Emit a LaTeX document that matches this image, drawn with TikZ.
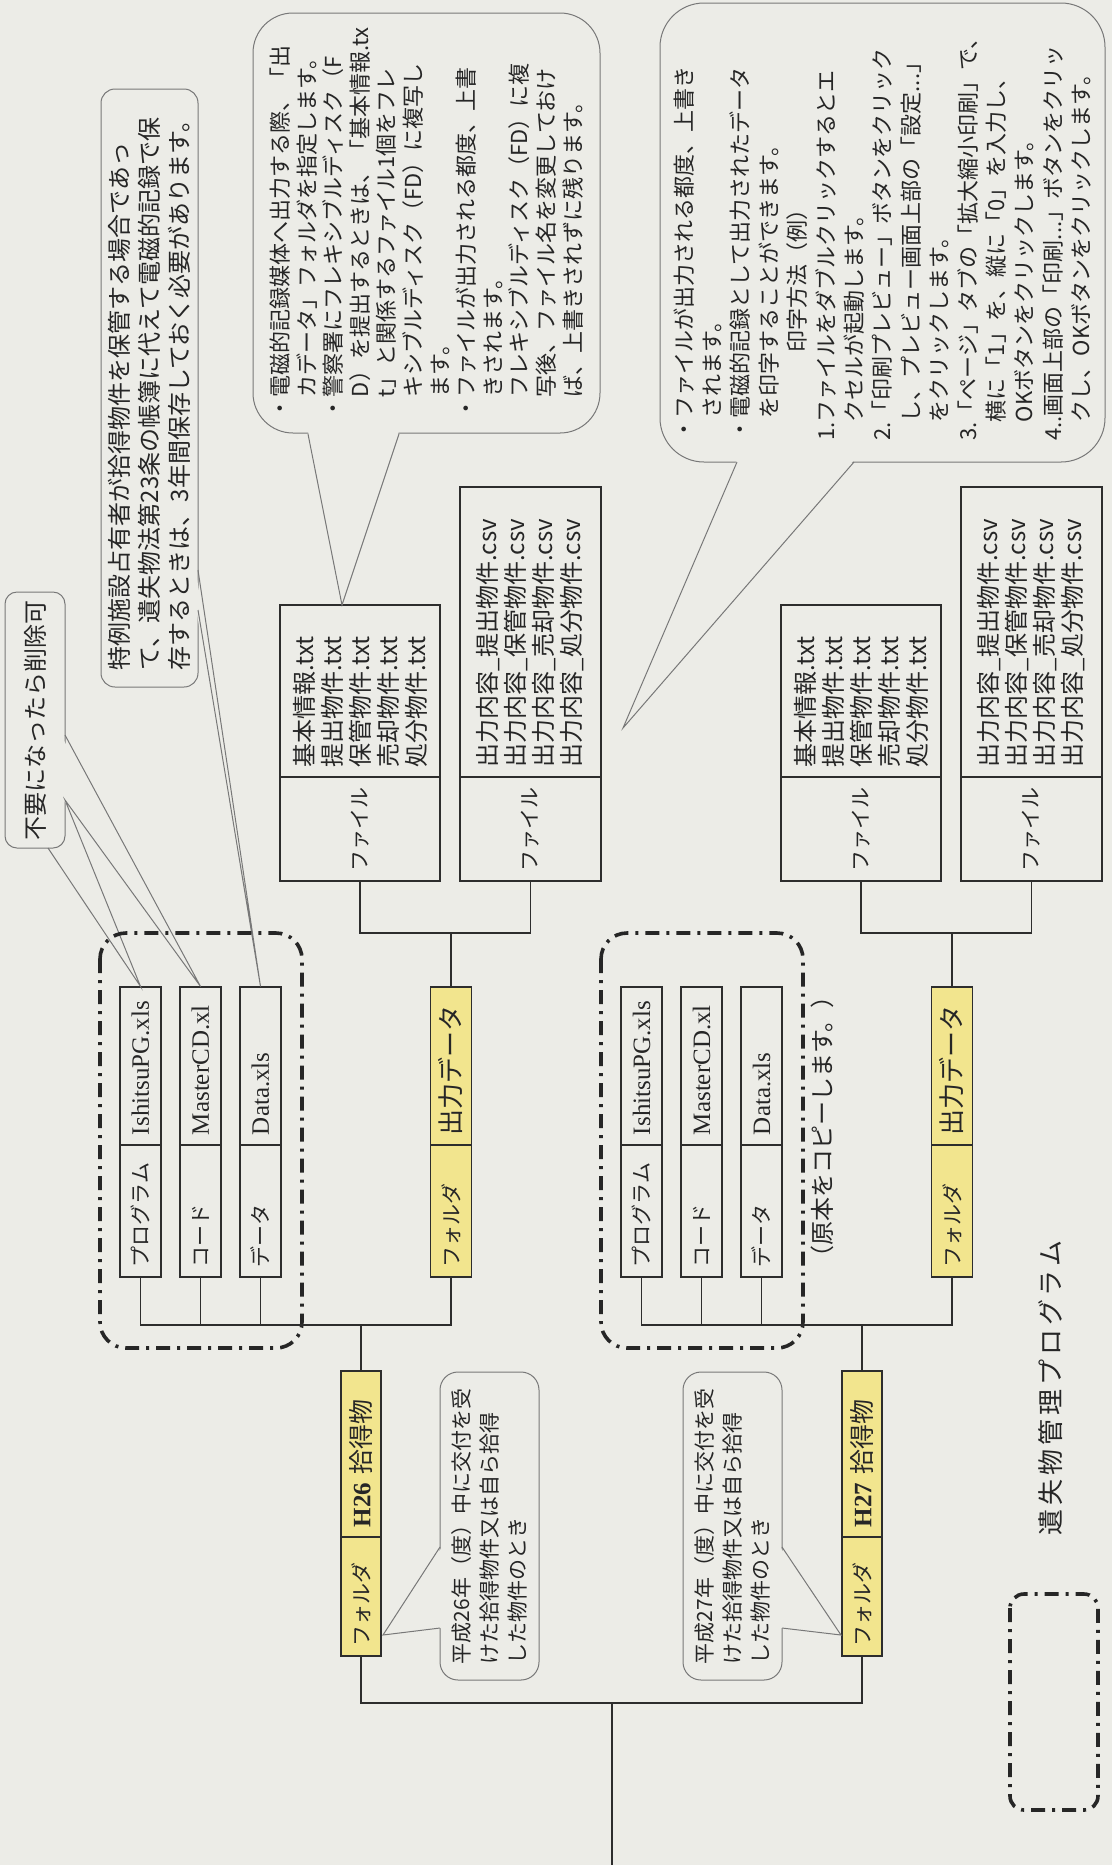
\documentclass[tikz,border=0pt]{standalone}
\usepackage{fontspec}
\setmainfont{Noto Sans CJK JP}
\newfontfamily\tms{Liberation Serif}
\newfontfamily\wideja[LetterSpace=15]{Noto Sans CJK JP}
\usepackage{tikz}
\definecolor{paper}     {RGB}{236,236,231}
\definecolor{folderyel} {RGB}{242,229,142}
\definecolor{boxline}   {RGB}{45,45,45}
\definecolor{noteline}  {RGB}{120,120,120}
\newcommand{\bulind}{\hphantom{・}}
\newcommand{\numind}{\hphantom{1.}}

\begin{document}
\begin{tikzpicture}[x=0.5pt,y=-0.5pt,
	part/.style={draw=boxline,line width=0.6pt,rotate=90,align=left,inner xsep=5pt,inner ysep=0pt,text=black!85},
	lab/.style={part,font=\fontsize{10.5}{12}\selectfont},
	smalll/.style={lab,text width=56pt,minimum height=20.5pt},
	smallv/.style={part,font=\tms\fontsize{12.5}{14}\selectfont,text width=69pt,minimum height=20.5pt},
	foldl/.style={smalll,fill=folderyel},
	foldv/.style={part,fill=folderyel,font=\fontsize{13}{14}\selectfont,text width=69pt,minimum height=20.5pt},
	yearl/.style={lab,fill=folderyel,text width=49.5pt,minimum height=20pt},
	yearv/.style={part,fill=folderyel,font=\fontsize{12.5}{14}\selectfont,text width=73pt,minimum height=20pt},
	filel/.style={lab,text width=42pt},
	filev/.style={part,font=\fontsize{12}{14}\selectfont},
	note/.style={draw=noteline,line width=0.5pt,rotate=90,align=left,inner sep=0pt,text=black!85},
	tail/.style={draw=noteline,line width=0.5pt},
	link/.style={draw=boxline,line width=0.7pt},
	dashbox/.style={draw=black!85,line width=1.8pt,dash pattern=on 7pt off 3.5pt on 1.5pt off 3.5pt,rounded corners=13pt}]
	% paper
	\fill[paper] (0,0) rectangle (1112,1865);
	\useasboundingbox (0,0) rectangle (1112,1865);

	% callouts
	\node[note,rounded corners=6pt,font=\fontsize{12}{14}\selectfont,text width=120pt,minimum width=128pt,minimum height=30pt] (n1) at (35,720) {不要になったら削除可};
	\node[note,rounded corners=7pt,font=\fontsize{12}{15}\selectfont,text width=282pt,minimum width=299pt,minimum height=48.5pt] (n2) at (149.5,388) {特例施設占有者が拾得物件を保管する場合であっ\\て、遺失物法第23条の帳簿に代えて電磁的記録で保\\存するときは、3年間保存しておく必要があります。};
	\node[note,rounded corners=20pt,font=\fontsize{11}{13.3}\selectfont,text width=196pt,minimum width=210pt,minimum height=173.5pt] (n3) at (426.5,223) {・電磁的記録媒体へ出力する際、「出\\
		\bulind カデータ」フォルダを指定します。\\
		・警察署にフレキシブルディスク（F\\
		\bulind D）を提出するときは、「基本情報.tx\\
		\bulind t」と関係するファイル1個をフレ\\
		\bulind キシブルディスク（FD）に複写し\\
		\bulind ます。\\
		・ファイルが出力される都度、上書\\
		\bulind きされます。\\
		\bulind フレキシブルディスク（FD）に複\\
		\bulind 写後、ファイル名を変更しておけ\\
		\bulind ば、上書きされずに残ります。};
	\node[note,rounded corners=22pt,font=\fontsize{11}{14.2}\selectfont,text width=208pt,minimum width=229.5pt,minimum height=222.5pt] (n4) at (882.5,232.5) {・ファイルが出力される都度、上書き\\
		\bulind されます。\\
		・電磁的記録として出力されたデータ\\
		\bulind を印字することができます。\\
		\hspace*{4em}印字方法（例）\\
		1.ファイルをダブルクリックするとエ\\
		\numind クセルが起動します。\\
		2.「印刷プレビュー」ボタンをクリック\\
		\numind し、プレビュー画面上部の「設定...」\\
		\numind をクリックします。\\
		3.「ページ」タブの「拡大縮小印刷」で、\\
		\numind 横に「1」を、縦に「0」を入力し、\\
		\numind OKボタンをクリックします。\\
		4..画面上部の「印刷...」ボタンをクリッ\\
		\numind クし、OKボタンをクリックします。};
	\node[note,rounded corners=9pt,font=\fontsize{10.5}{14}\selectfont,text width=138pt,minimum width=154pt,minimum height=49.5pt] (n5) at (489.5,1526) {平成26年（度）中に交付を受\\けた拾得物件又は自ら拾得\\した物件のとき};
	\node[note,rounded corners=9pt,font=\fontsize{10.5}{14}\selectfont,text width=138pt,minimum width=154pt,minimum height=49.5pt] (n6) at (732.5,1526) {平成27年（度）中に交付を受\\けた拾得物件又は自ら拾得\\した物件のとき};

	% H26
	\node[smallv] (p26v) at (140.5,1066) {IshitsuPG.xls};
	\node[smalll] (p26l) at (140.5,1211) {プログラム};
	\node[smallv] (c26v) at (200.5,1066) {MasterCD.xl};
	\node[smalll] (c26l) at (200.5,1211) {コード};
	\node[smallv] (d26v) at (260.5,1066) {Data.xls};
	\node[smalll] (d26l) at (260.5,1211) {データ};
	\node[foldv] (f26v) at (451,1066) {出力データ};
	\node[foldl] (f26l) at (451,1211) {フォルダ};
	\node[filev,text width=76pt,minimum height=80pt] (k26v) at (360,691) {基本情報.txt\\提出物件.txt\\保管物件.txt\\売却物件.txt\\処分物件.txt};
	\node[filel,minimum height=80pt] (k26l) at (360,829) {ファイル};
	\node[filev,text width=135pt,minimum height=70.5pt] (o26v) at (530.5,632) {出力内容\_提出物件.csv\\出力内容\_保管物件.csv\\出力内容\_売却物件.csv\\出力内容\_処分物件.csv};
	\node[filel,minimum height=70.5pt] (o26l) at (530.5,829) {ファイル};
	\node[yearv] (h26v) at (361,1454) {{\tms\bfseries H26} 拾得物};
	\node[yearl] (h26l) at (361,1596.5) {フォルダ};

	% H27
	\node[smallv] (p27v) at (641.5,1066) {IshitsuPG.xls};
	\node[smalll] (p27l) at (641.5,1211) {プログラム};
	\node[smallv] (c27v) at (701.5,1066) {MasterCD.xl};
	\node[smalll] (c27l) at (701.5,1211) {コード};
	\node[smallv] (d27v) at (761.5,1066) {Data.xls};
	\node[smalll] (d27l) at (761.5,1211) {データ};
	\node[foldv] (f27v) at (952,1066) {出力データ};
	\node[foldl] (f27l) at (952,1211) {フォルダ};
	\node[filev,text width=76pt,minimum height=80pt] (k27v) at (861,691) {基本情報.txt\\提出物件.txt\\保管物件.txt\\売却物件.txt\\処分物件.txt};
	\node[filel,minimum height=80pt] (k27l) at (861,829) {ファイル};
	\node[filev,text width=135pt,minimum height=70.5pt] (o27v) at (1031.5,632) {出力内容\_提出物件.csv\\出力内容\_保管物件.csv\\出力内容\_売却物件.csv\\出力内容\_処分物件.csv};
	\node[filel,minimum height=70.5pt] (o27l) at (1031.5,829) {ファイル};
	\node[yearv] (h27v) at (862,1454) {{\tms\bfseries H27} 拾得物};
	\node[yearl] (h27l) at (862,1596.5) {フォルダ};
	\node[rotate=90,font=\fontsize{12}{14}\selectfont,text=black!85] (copy27) at (822,1127) {（原本をコピーします。）};

	% tails
	\coordinate (tip3) at (342,605);
	\coordinate (tip4) at (623,728);
	\coordinate (tip5) at (383,1635);
	\coordinate (tip6) at (841,1635);
	\fill[paper] (62,737) -- (c26v.east) -- (62,798) -- cycle;
	\draw[tail] (65,735) -- (c26v.east) -- (65,800) -- (p26v.east) -- (48,848);
	\fill[paper] (196,572) -- (d26v.east) -- (196,608) -- cycle;
	\draw[tail] (198,570) -- (d26v.east) -- (198,610);
	\fill[paper] (308,431) -- (tip3) -- (399,431) -- cycle;
	\draw[tail] (308,434) -- (tip3) -- (399,434);
	\fill[paper] (737,460) -- (tip4) -- (854,460) -- cycle;
	\draw[tail] (737,462) -- (tip4) -- (854,462);
	\fill[paper] (442,1547) -- (tip5) -- (442,1628) -- cycle;
	\draw[tail] (440,1547) -- (tip5) -- (440,1628);
	\fill[paper] (780,1547) -- (tip6) -- (780,1628) -- cycle;
	\draw[tail] (782,1547) -- (tip6) -- (782,1628);

	% original files
	\draw[dashbox] (100,933) rectangle (302,1348);
	\draw[dashbox] (601,933) rectangle (803,1348);
	\draw[dashbox,rounded corners=7pt] (1010,1594) rectangle (1098,1810);
	\node[rotate=90,font=\wideja\fontsize{13}{15}\selectfont,text=black!85] (title) at (1051,1388) {遺失物管理プログラム};

	% tree
	\coordinate (t26) at (361,1325);
	\coordinate (u26) at (451,933);
	\coordinate (t27) at (862,1325);
	\coordinate (u27) at (952,933);
	\coordinate (r0) at (612,1703);
	\coordinate (base) at (612,1865);
	\draw[link] (p26l.west) |- (t26);
	\draw[link] (c26l.west) |- (t26);
	\draw[link] (d26l.west) |- (t26);
	\draw[link] (f26l.west) |- (t26);
	\draw[link] (h26v.east) -- (t26);
	\draw[link] (k26l.west) |- (u26);
	\draw[link] (o26l.west) |- (u26);
	\draw[link] (f26v.east) -- (u26);
	\draw[link] (p27l.west) |- (t27);
	\draw[link] (c27l.west) |- (t27);
	\draw[link] (d27l.west) |- (t27);
	\draw[link] (f27l.west) |- (t27);
	\draw[link] (h27v.east) -- (t27);
	\draw[link] (k27l.west) |- (u27);
	\draw[link] (o27l.west) |- (u27);
	\draw[link] (f27v.east) -- (u27);
	\draw[link] (h26l.west) |- (r0);
	\draw[link] (h27l.west) |- (r0);
	\draw[link] (r0) -- (base);
\end{tikzpicture}
\end{document}
